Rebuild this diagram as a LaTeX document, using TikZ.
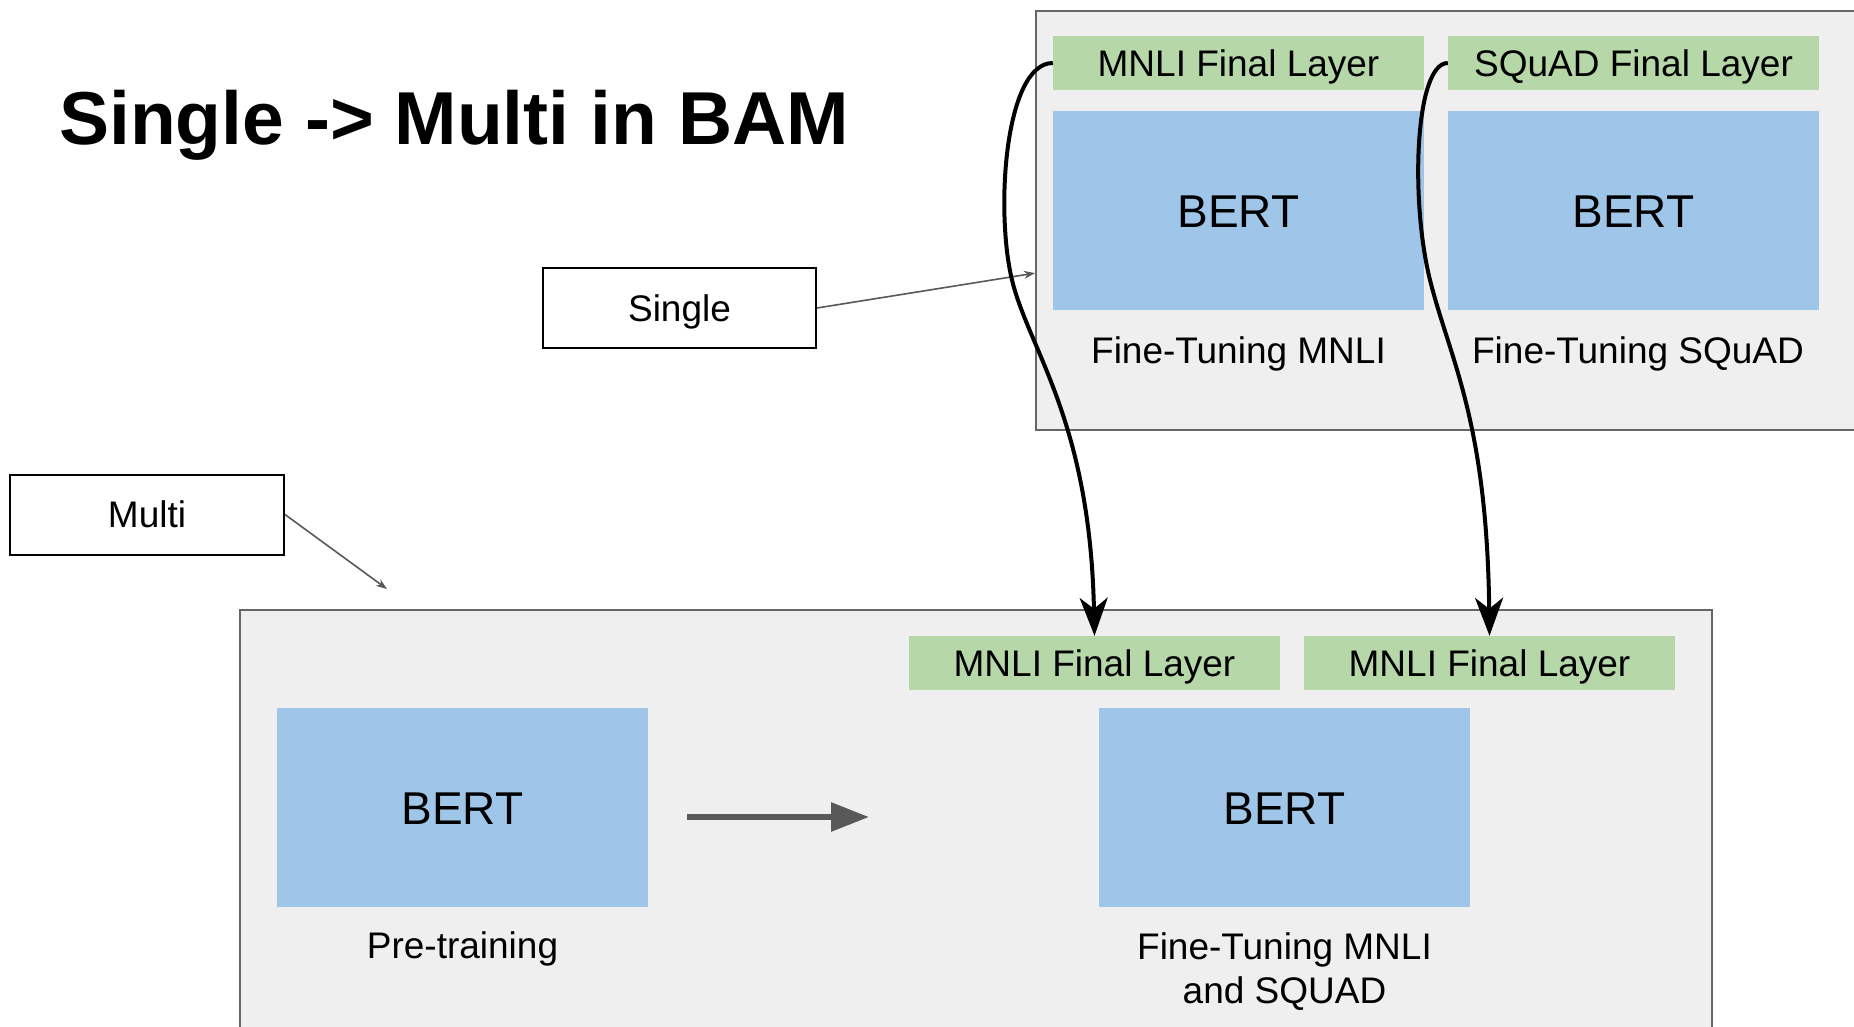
\documentclass[tikz,border=0pt]{standalone}
\usepackage{fontspec}
\setmainfont{Liberation Sans}
\usetikzlibrary{arrows.meta,calc}

\definecolor{panelfill}{HTML}{EFEFEF}
\definecolor{panelline}{HTML}{666666}
\definecolor{layergreen}{HTML}{B6D7A8}
\definecolor{bertblue}{HTML}{9FC5E8}
\definecolor{arrowgray}{HTML}{595959}

\begin{document}
\begin{tikzpicture}[x=1pt,y=-1pt,
  panel/.style={draw=panelline, line width=2pt, fill=panelfill, inner sep=0pt, anchor=north west},
  layerbox/.style={fill=layergreen, inner sep=0pt, minimum width=371pt, minimum height=54pt,
    font=\fontsize{37}{44}\selectfont, text height=26.5pt, text depth=0pt},
  bertbox/.style={fill=bertblue, inner sep=0pt, minimum width=371pt, minimum height=199pt,
    font=\fontsize{46}{55}\selectfont, text height=33pt, text depth=0pt},
  tagbox/.style={draw=black, line width=2pt, fill=white, inner sep=0pt, minimum height=80pt,
    font=\fontsize{37}{44}\selectfont, text height=26.5pt, text depth=0pt},
  caption/.style={inner sep=0pt, font=\fontsize{37}{44}\selectfont, align=center},
  pointer/.style={draw=arrowgray, line width=1.6pt, -{Stealth[length=11pt,width=8pt]}},
  transfer/.style={draw=black, line width=4pt, -{Stealth[length=38pt,width=28pt,inset=11pt]}},
  flow/.style={draw=arrowgray, line width=6pt, -{Triangle[length=38pt,width=28pt]}}
]
\useasboundingbox (0,0) rectangle (1854,1026);
\clip (0,0) rectangle (1854,1026);
\fill[white] (0,0) rectangle (1854,1026);

% heading
\node[anchor=base west, inner sep=0pt, font=\fontsize{75}{90}\selectfont\bfseries]
  (title) at (59,144) {Single -> Multi in BAM};

% single-task panel (top right)
\node[panel, minimum width=840pt, minimum height=419pt] (sp) at (1035,10) {};
\node[layerbox] (mt) at (1238.5,63) {MNLI Final Layer};
\node[layerbox] (st) at (1633.5,63) {SQuAD Final Layer};
\node[bertbox]  (bt1) at (1238.5,210.5) {BERT};
\node[bertbox]  (bt2) at (1633.5,210.5) {BERT};
\node[caption, anchor=base] (ft1) at (1238.5,363) {Fine-Tuning MNLI};
\node[caption, anchor=base] (ft2) at (1638,363) {Fine-Tuning SQuAD};

% multi-task panel (bottom)
\node[panel, minimum width=1472pt, minimum height=440pt] (mp) at (239,609) {};
\node[layerbox] (mb1) at (1094.5,663) {MNLI Final Layer};
\node[layerbox] (mb2) at (1489.5,663) {MNLI Final Layer};
\node[bertbox]  (bpre) at (462.5,807.5) {BERT};
\node[bertbox]  (bft) at (1284.5,807.5) {BERT};
\node[caption, anchor=base] (cpre) at (462.5,958) {Pre-training};
\node[caption, anchor=north] (cft) at (1284.5,932.5) {Fine-Tuning MNLI\\[-0.5pt]and SQUAD};

% pre-training to fine-tuning
\coordinate (flowA) at (687,817);
\coordinate (flowB) at (869,817);
\draw[flow] (flowA) -- (flowB);

% tags
\node[tagbox, minimum width=273pt] (single) at (679.5,308) {Single};
\node[tagbox, minimum width=274pt] (multi) at (147,514.5) {Multi};
\coordinate (multitip) at (387,589);
\draw[pointer] (single.east) -- ($(sp.north west)!0.625!(sp.south west)$);
\draw[pointer] (multi.east) -- (multitip);

% final layers carried over into the multi-task model
\draw[transfer] (mt.west) .. controls (1005,63) and (995,210) .. (1012,280)
  .. controls (1029,350) and (1090,420) .. (mb1.north);
\draw[transfer] (st.west) .. controls (1415,63) and (1410,200) .. (1430,280)
  .. controls (1450,360) and (1487,420) .. (mb2.north);
\end{tikzpicture}
\end{document}
